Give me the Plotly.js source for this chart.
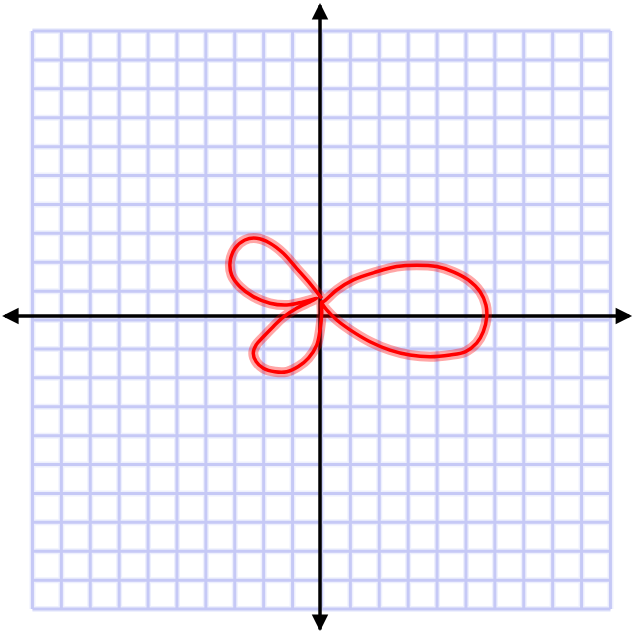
<!DOCTYPE html>
<html>
<head>
<meta charset="utf-8">
<script src="https://cdn.plot.ly/plotly-3.0.1.min.js"></script>
<style>html,body{margin:0;padding:0;background:#fff;}</style>
</head>
<body>
<div id="chart" style="width:633px;height:632px;"></div>
<script>
// Grid line positions (grid units)
const gridX = [-9.95,-8.95,-7.95,-6.95,-5.95,-4.95,-3.95,-2.95,-1.95,-0.95,0.05,1.05,2.05,3.05,4.05,5.05,6.05,7.05,8.05,9.05,10.05];
const gridY = [9.86,8.86,7.86,6.86,5.86,4.86,3.86,2.86,1.86,0.86,-0.14,-1.14,-2.14,-3.14,-4.14,-5.14,-6.14,-7.14,-8.14,-9.14,-10.14];

// Axis extents
const axisX = [-10.9, 10.7];
const axisY = [-10.85, 10.75];

// Red curve (three lobes through one knot)
const curveX = [
  0.06,-0.35,-0.81,-1.27,-1.73,-2.19,-2.60,-2.94,-3.11,-3.06,-2.77,-2.31,-1.73,-1.15,-0.58,-0.11,
  -0.35,-0.81,-1.27,-1.62,-1.96,-2.21,-2.31,-2.21,-1.96,-1.56,-1.15,-0.75,-0.40,-0.11,0.00,0.06,0.06,
  0.11,0.58,1.15,1.96,2.65,3.35,4.04,4.61,5.13,5.54,5.74,5.77,5.65,5.42,5.02,4.50,3.81,3.11,2.42,1.73,1.04,0.58,0.23,0.06
];
const curveY = [
  0.61,1.13,1.65,2.17,2.52,2.69,2.63,2.34,1.88,1.42,1.01,0.67,0.44,0.38,0.49,0.61,
  0.49,0.27,-0.04,-0.37,-0.72,-1.00,-1.29,-1.58,-1.81,-1.93,-1.93,-1.75,-1.46,-1.00,-0.48,0.09,0.49,
  0.49,0.90,1.25,1.53,1.71,1.76,1.71,1.53,1.25,0.84,0.38,-0.02,-0.54,-0.94,-1.24,-1.35,-1.41,-1.35,-1.18,-0.89,-0.48,-0.14,0.21,0.44
];

// Build grid segments from the grid arrays
const gxs = [], gys = [];
const yTop = gridY[0], yBot = gridY[gridY.length - 1];
const xLeft = gridX[0], xRight = gridX[gridX.length - 1];
gridX.forEach(v => { gxs.push(v, v, null); gys.push(yBot, yTop, null); });
gridY.forEach(v => { gxs.push(xLeft, xRight, null); gys.push(v, v, null); });

const traces = [
  { x: gxs, y: gys, mode: 'lines', line: { color: '#eef0fd', width: 6 }, hoverinfo: 'skip' },
  { x: gxs, y: gys, mode: 'lines', line: { color: '#c6c9f6', width: 3 }, hoverinfo: 'skip' },
  { x: [axisX[0], axisX[1], null, 0, 0], y: [0, 0, null, axisY[0], axisY[1]],
    mode: 'lines', line: { color: '#000', width: 3.5 }, hoverinfo: 'skip' },
  { x: curveX, y: curveY, mode: 'lines', line: { color: 'rgba(255,0,0,0.35)', width: 10, shape: 'spline', smoothing: 1 }, hoverinfo: 'skip' },
  { x: curveX, y: curveY, mode: 'lines', line: { color: '#ff0000', width: 3.5, shape: 'spline', smoothing: 1 }, hoverinfo: 'skip' }
];

const arrowBase = { text: '', showarrow: true, arrowhead: 2, arrowsize: 1.1, arrowwidth: 3, arrowcolor: '#000', xref: 'x', yref: 'y' };
const layout = {
  width: 633, height: 632,
  margin: { l: 0, r: 0, t: 0, b: 0, pad: 0 },
  paper_bgcolor: '#fff', plot_bgcolor: '#fff',
  showlegend: false,
  xaxis: { range: [-11.073, 10.830], visible: false, fixedrange: true },
  yaxis: { range: [-10.934, 10.934], visible: false, fixedrange: true },
  annotations: [
    Object.assign({}, arrowBase, { x: 10.8, y: 0, ax: -14, ay: 0 }),
    Object.assign({}, arrowBase, { x: -11.0, y: 0, ax: 14, ay: 0 }),
    Object.assign({}, arrowBase, { x: 0, y: 10.83, ax: 0, ay: 14 }),
    Object.assign({}, arrowBase, { x: 0, y: -10.9, ax: 0, ay: -14 })
  ]
};

Plotly.newPlot('chart', traces, layout, { staticPlot: true, displayModeBar: false });
</script>
</body>
</html>
